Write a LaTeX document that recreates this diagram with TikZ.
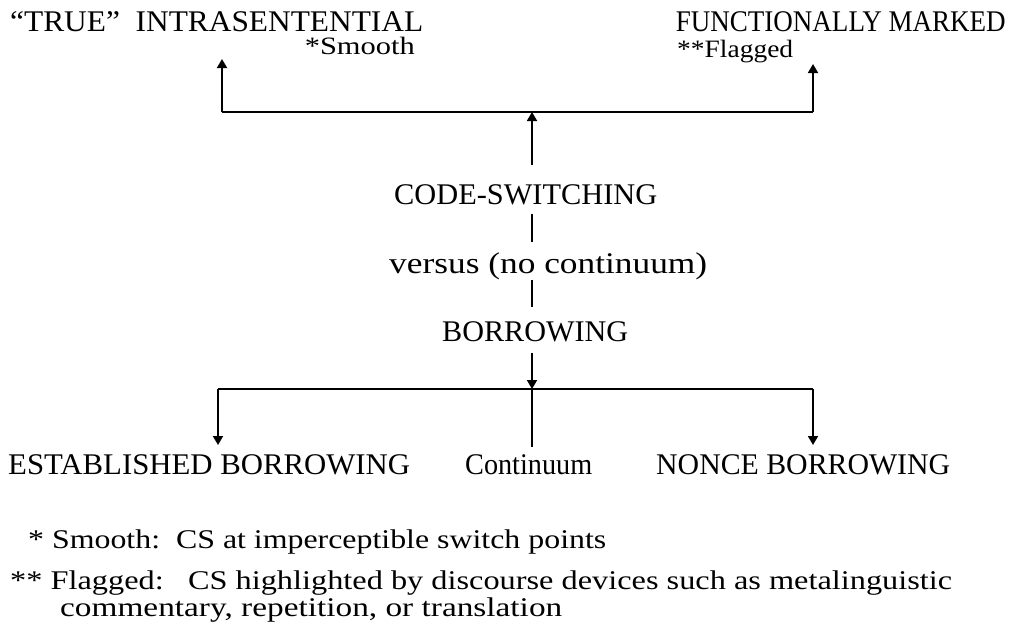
\documentclass[tikz,border=0pt]{standalone}
\usepackage{fontspec}
\usepackage{graphicx}
\setmainfont{Liberation Serif}
\usetikzlibrary{arrows.meta,calc}
\newcommand\fitw[2]{\resizebox{#1}{\height}{#2}}
\begin{document}
\begin{tikzpicture}[x=1pt,y=-1pt,
  lbl/.style={inner sep=0pt,font=\fontsize{30}{36}\selectfont},
  sub/.style={inner sep=0pt,font=\fontsize{25}{30}\selectfont},
  note/.style={inner sep=0pt,font=\fontsize{27}{30}\selectfont},
  conn/.style={line width=1.8pt},
  arr/.style={conn,-{Triangle[width=10pt,length=9pt]}}]
\useasboundingbox (0,0) rectangle (1012,630);
% labels
\node[lbl,anchor=base west] (tl) at (10,31) {\fitw{413pt}{``TRUE''\ \ INTRASENTENTIAL}};
\node[sub,anchor=base east] (sm) at (415,54) {\fitw{110pt}{*Smooth}};
\node[lbl,anchor=base east] (tr) at (1006,31) {\fitw{330pt}{FUNCTIONALLY MARKED}};
\node[sub,anchor=base west] (fl) at (677,57) {\fitw{116pt}{**Flagged}};
\node[lbl,anchor=base west] (cs) at (394,204) {\fitw{263pt}{CODE-SWITCHING}};
\node[lbl,anchor=base west] (vs) at (389,273) {\fitw{318pt}{versus (no continuum)}};
\node[lbl,anchor=base west] (bo) at (442,341) {\fitw{186pt}{BORROWING}};
\node[lbl,anchor=base west] (eb) at (8,474) {\fitw{402pt}{ESTABLISHED BORROWING}};
\node[lbl,anchor=base west] (co) at (465,474) {\fitw{127pt}{Continuum}};
\node[lbl,anchor=base west] (nb) at (656,474) {\fitw{294pt}{NONCE BORROWING}};
% footnotes
\node[note,anchor=base west] (fn1) at (28,548) {\fitw{578pt}{* Smooth:\ \ CS at imperceptible switch points}};
\node[note,anchor=base west] (fn2) at (10,589) {\fitw{942pt}{** Flagged:\ \ \ CS highlighted by discourse devices such as metalinguistic}};
\node[note,anchor=base west] (fn3) at (60,616) {\fitw{502pt}{commentary, repetition, or translation}};
% junction points and free ends
\coordinate (jt) at (532,112);
\coordinate (tla) at (222,59);
\coordinate (tra) at (813,64);
\coordinate (jb) at (532,389);
\coordinate (eba) at (218,445);
\coordinate (nba) at (813,445);
% upper tree
\draw[conn] (tla |- jt) -- (tra |- jt);
\draw[arr] (tla |- jt) -- (tla);
\draw[arr] (tra |- jt) -- (tra);
\draw[arr] ($(cs.north -| jt)+(0,-19)$) -- (jt);
\draw[conn] ($(cs.south -| jt)+(0,9)$) -- ($(vs.north -| jt)+(0,-10)$);
\draw[conn] ($(vs.south -| jt)+(0,0)$) -- ($(bo.north -| jt)+(0,-14)$);
% lower tree
\draw[arr] ($(bo.south -| jb)+(0,11)$) -- (jb);
\draw[conn] (eba |- jb) -- (nba |- jb);
\draw[arr] (eba |- jb) -- (eba);
\draw[arr] (nba |- jb) -- (nba);
\draw[conn] (jb) -- ($(co.north -| jb)+(0,-7)$);
\end{tikzpicture}
\end{document}
